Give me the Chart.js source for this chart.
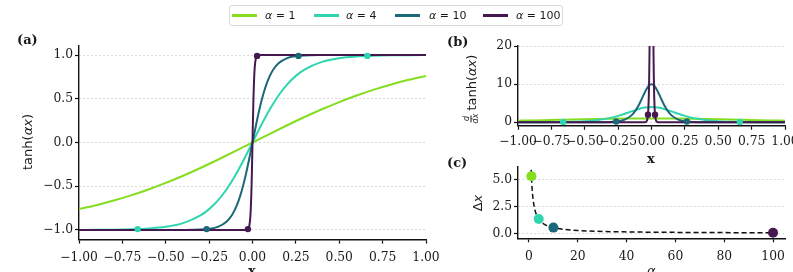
<!DOCTYPE html>
<html><head><meta charset="utf-8">
<script src="https://cdn.jsdelivr.net/npm/chart.js@4.4.1/dist/chart.umd.min.js"></script>
<style>
html,body{margin:0;padding:0;width:793px;height:272px;overflow:hidden;background:#fff;position:relative}
canvas{position:absolute}
.t{position:absolute;white-space:nowrap;color:#1a1a1a;line-height:13px}
.serifb{font-family:"DejaVu Serif",serif;font-weight:bold;font-size:13px}
.sans{font-family:"DejaVu Sans",sans-serif;font-size:13px}
.rot{transform:translate(-50%,-50%) rotate(-90deg)}
#legend{position:absolute;left:229px;top:5px;width:332px;height:19px;border:1px solid #d8d8d8;border-radius:3px}
.sw{position:absolute;height:3.5px;width:25px;top:7.5px}
.lt{position:absolute;top:3px;white-space:nowrap;font-family:"DejaVu Sans",sans-serif;font-size:11px;line-height:13px;color:#1a1a1a}
</style></head><body>
<canvas id="ca" width="460" height="272" style="left:0;top:0"></canvas>
<canvas id="cb" width="370" height="150" style="left:440px;top:0"></canvas>
<canvas id="cc" width="370" height="122" style="left:440px;top:150px"></canvas>
<div id="legend"></div>
<div class="t serifb" style="left:17px;top:33px">(a)</div>
<div class="t serifb" style="left:447px;top:35px">(b)</div>
<div class="t serifb" style="left:447px;top:156px">(c)</div>
<div class="t sans rot" style="left:27px;top:142px">tanh(<i>α</i><i>x</i>)</div>
<div class="t sans rot" style="left:471px;top:89px;display:flex;align-items:center"><span style="display:inline-flex;flex-direction:column;align-items:center;font-size:8px;line-height:8px;font-style:italic;margin-right:3px"><span style="border-bottom:0.8px solid #1a1a1a;padding:0 1px">d</span><span>dx</span></span>tanh(<i>α</i><i>x</i>)</div>
<div class="t sans rot" style="left:477px;top:203px">Δ<i>x</i></div>
<div class="t serifb" style="left:248px;top:264px">x</div>
<div class="t serifb" style="left:647px;top:152px">x</div>
<div class="t sans" style="left:647px;top:264px"><i>α</i></div>
<script>
// ---------- data ----------
const alphas = [1, 4, 10, 100];
const colors = ['#84de1f', '#2fd5ae', '#1b6878', '#45194f'];

// alpha = 1
const xA1 = [-1,-0.9,-0.8,-0.7,-0.6,-0.5,-0.4,-0.3,-0.2,-0.1,0,0.1,0.2,0.3,0.4,0.5,0.6,0.7,0.8,0.9,1];
const tA1 = [-0.7616,-0.7163,-0.6640,-0.6044,-0.5370,-0.4621,-0.3799,-0.2913,-0.1974,-0.0997,0,0.0997,0.1974,0.2913,0.3799,0.4621,0.5370,0.6044,0.6640,0.7163,0.7616];
const dA1 = [0.4200,0.4869,0.5591,0.6347,0.7116,0.7864,0.8557,0.9151,0.9610,0.9901,1,0.9901,0.9610,0.9151,0.8557,0.7864,0.7116,0.6347,0.5591,0.4869,0.4200];
// alpha = 4
const xA4 = [-1,-0.9,-0.8,-0.7,-0.6,-0.5,-0.4,-0.3,-0.25,-0.2,-0.15,-0.1,-0.05,0,0.05,0.1,0.15,0.2,0.25,0.3,0.4,0.5,0.6,0.7,0.8,0.9,1];
const tA4 = [-0.9993,-0.9985,-0.9967,-0.9926,-0.9837,-0.9640,-0.9217,-0.8337,-0.7616,-0.6640,-0.5370,-0.3799,-0.1974,0,0.1974,0.3799,0.5370,0.6640,0.7616,0.8337,0.9217,0.9640,0.9837,0.9926,0.9967,0.9985,0.9993];
const dA4 = [0.005,0.012,0.026,0.059,0.130,0.283,0.602,1.220,1.680,2.236,2.846,3.423,3.844,4,3.844,3.423,2.846,2.236,1.680,1.220,0.602,0.283,0.130,0.059,0.026,0.012,0.005];
// alpha = 10
const xA10 = [-1,-0.5,-0.4,-0.3,-0.25,-0.2,-0.15,-0.12,-0.1,-0.08,-0.06,-0.04,-0.02,0,0.02,0.04,0.06,0.08,0.1,0.12,0.15,0.2,0.25,0.3,0.4,0.5,1];
const tA10 = [-1,-0.9999,-0.9993,-0.9951,-0.9866,-0.9640,-0.9051,-0.8337,-0.7616,-0.6640,-0.5370,-0.3799,-0.1974,0,0.1974,0.3799,0.5370,0.6640,0.7616,0.8337,0.9051,0.9640,0.9866,0.9951,0.9993,0.9999,1];
const dA10 = [0,0.002,0.013,0.099,0.266,0.707,1.807,3.050,4.200,5.591,7.116,8.556,9.610,10,9.610,8.556,7.116,5.591,4.200,3.050,1.807,0.707,0.266,0.099,0.013,0.002,0];
// alpha = 100
const xA100 = [-1,-0.1,-0.05,-0.04,-0.03,-0.025,-0.0225,-0.02,-0.0175,-0.015,-0.0125,-0.01,-0.0075,-0.005,-0.0025,0,0.0025,0.005,0.0075,0.01,0.0125,0.015,0.0175,0.02,0.0225,0.025,0.03,0.04,0.05,0.1,1];
const tA100 = [-1,-1,-0.9999,-0.9993,-0.9951,-0.9866,-0.9780,-0.9640,-0.9414,-0.9051,-0.8483,-0.7616,-0.6351,-0.4621,-0.2449,0,0.2449,0.4621,0.6351,0.7616,0.8483,0.9051,0.9414,0.9640,0.9780,0.9866,0.9951,0.9993,0.9999,1,1];
const dA100 = [0,0,0.018,0.134,0.987,2.66,4.35,7.07,11.38,18.07,28.04,42.0,59.66,78.64,94.0,100,94.0,78.64,59.66,42.0,28.04,18.07,11.38,7.07,4.35,2.66,0.987,0.134,0.018,0,0];

// marker points (where tanh reaches ±0.99)
const markX = [2.647, 0.6617, 0.2647, 0.02647];
const markT = 0.99;
const markD = [0.0199, 0.0796, 0.199, 1.99];

// panel (c)
const deltaX = [5.293, 1.323, 0.529, 0.0529];
const curveAlpha = [0.9,1,1.25,1.5,2,2.5,3,4,5,6,8,10,15,20,30,40,50,60,70,80,90,100];
const curveDX = [5.881,5.293,4.234,3.529,2.647,2.117,1.764,1.323,1.059,0.882,0.662,0.529,0.353,0.265,0.176,0.132,0.106,0.088,0.076,0.066,0.059,0.053];

// ticks
const ticksX11 = [-1,-0.75,-0.5,-0.25,0,0.25,0.5,0.75,1];
const ticksYa = [-1,-0.5,0,0.5,1];
const ticksYb = [0,10,20];
const ticksXc = [0,20,40,60,80,100];
const ticksYc = [0,2.5,5];

// ---------- helpers ----------
const SERIF = '"DejaVu Serif", serif';
const minus = s => s.replace('-', '\u2212');
const xs = [xA1, xA4, xA10, xA100];
const ts = [tA1, tA4, tA10, tA100];
const ds = [dA1, dA4, dA10, dA100];
const pts = (a, b) => a.map((v, i) => ({x: v, y: b[i]}));

function scale(axis, min, max, ticks, digits, size, isGrid, pad) {
  return {
    type: 'linear', min, max,
    afterBuildTicks: sc => { sc.ticks = ticks.map(v => ({value: v})); },
    afterFit: sc => { if (axis === 'x') sc.height = size; else sc.width = size; },
    border: {display: true, color: '#111', width: 1.4, dash: isGrid ? [1.5, 2.5] : []},
    grid: {
      drawOnChartArea: isGrid, drawTicks: true, tickLength: 4, tickColor: '#111', tickWidth: 1.2,
      tickBorderDash: [10, 0], color: '#cfcfcf', lineWidth: 1
    },
    ticks: {
      autoSkip: false, maxRotation: 0, minRotation: 0, padding: pad, color: '#1a1a1a',
      font: {family: SERIF, size: 12.3},
      callback: v => minus(Number(v).toFixed(digits))
    }
  };
}

function lineSets(dataY, markY) {
  const sets = [];
  alphas.forEach((a, i) => {
    sets.push({
      data: pts(xs[i], dataY[i]), borderColor: colors[i], backgroundColor: colors[i],
      borderWidth: 2, pointRadius: 0, cubicInterpolationMode: 'monotone', order: 10 - i
    });
  });
  alphas.forEach((a, i) => {
    sets.push({
      data: [{x: -markX[i], y: markY(i, -1)}, {x: markX[i], y: markY(i, 1)}],
      showLine: false, pointRadius: 3.2, pointBorderWidth: 0,
      pointBackgroundColor: colors[i], borderColor: colors[i], order: 5 - i
    });
  });
  return sets;
}

const common = {
  responsive: false, animation: false, devicePixelRatio: 1,
  plugins: {legend: {display: false}, tooltip: {enabled: false}},
  elements: {line: {tension: 0}}
};

// ---------- (a) ----------
new Chart(document.getElementById('ca'), {
  type: 'line',
  data: {datasets: lineSets(ts, (i, s) => s * markT)},
  options: Object.assign({}, common, {
    layout: {padding: {left: 0, top: 45.4, right: 34, bottom: 0}},
    scales: {
      x: scale('x', -1, 1, ticksX11, 2, 32.4, false, 7),
      y: scale('y', -1.11, 1.11, ticksYa, 1, 79, true, 2)
    }
  })
});

// ---------- (b) ----------
new Chart(document.getElementById('cb'), {
  type: 'line',
  data: {datasets: lineSets(ds, (i, s) => markD[i])},
  options: Object.assign({}, common, {
    layout: {padding: {left: 0, top: 46, right: 25, bottom: 0}},
    scales: {
      x: scale('x', -1, 1, ticksX11, 2, 24.3, false, 5),
      y: scale('y', -0.9, 20, ticksYb, 0, 78, true, 2)
    }
  })
});

// ---------- (c) ----------
new Chart(document.getElementById('cc'), {
  type: 'line',
  data: {datasets: [
    {data: alphas.map((a, i) => ({x: a, y: deltaX[i]})), showLine: false, pointRadius: 5,
     pointBorderWidth: 0, pointBackgroundColor: colors, order: 0},
    {data: pts(curveAlpha, curveDX), borderColor: '#111', borderWidth: 1.5, borderDash: [5, 3],
     pointRadius: 0, cubicInterpolationMode: 'monotone', order: 1}
  ]},
  options: Object.assign({}, common, {
    layout: {padding: {left: 0, top: 17, right: 25, bottom: 0}},
    scales: {
      x: scale('x', -4.5, 104.9, ticksXc, 0, 33.7, false, 7),
      y: scale('y', -0.46, 6.14, ticksYc, 1, 78, true, 2)
    }
  })
});

// ---------- legend ----------
const lg = document.getElementById('legend');
const swX = [2, 84, 165, 253];
const lbX = [35, 116, 199, 286];
alphas.forEach((a, i) => {
  const sw = document.createElement('div');
  sw.className = 'sw'; sw.style.left = swX[i] + 'px'; sw.style.background = colors[i];
  lg.appendChild(sw);
  const lb = document.createElement('div');
  lb.className = 'lt'; lb.style.left = lbX[i] + 'px';
  lb.innerHTML = '<i>α</i> = ' + a;
  lg.appendChild(lb);
});
</script>
</body></html>
